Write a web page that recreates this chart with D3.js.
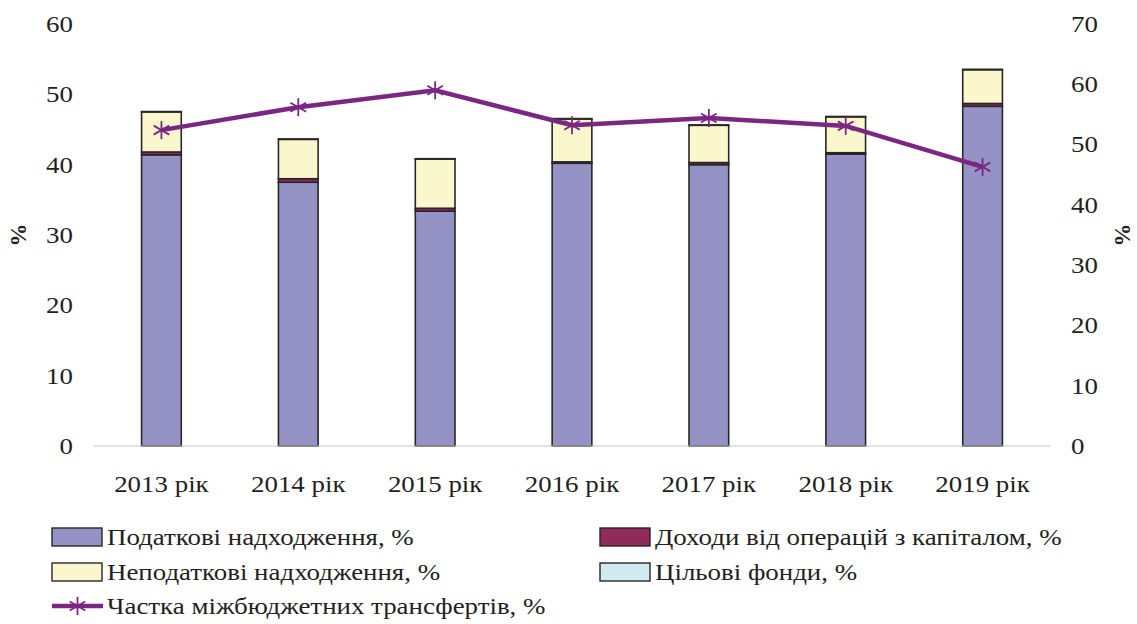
<!DOCTYPE html>
<html>
<head>
<meta charset="utf-8">
<script src="https://cdn.jsdelivr.net/npm/d3@7"></script>
<style>
  body { margin: 0; background: #fff; }
  svg text { font-family: "Liberation Serif", "Times New Roman", serif !important; fill: #231f20; }
</style>
</head>
<body>
<svg id="chart" width="1137" height="624"></svg>
<script>
// data
var years = ["2013 рік", "2014 рік", "2015 рік", "2016 рік", "2017 рік", "2018 рік", "2019 рік"];
var taxRevenue = [41.4, 37.5, 33.4, 40.2, 40.0, 41.5, 48.3];
var capitalIncome = [0.4, 0.5, 0.4, 0.2, 0.3, 0.2, 0.4];
var nonTaxRevenue = [5.7, 5.6, 7.0, 6.1, 5.3, 5.1, 4.8];
var targetFunds = [0.05, 0.05, 0.05, 0.05, 0.05, 0.05, 0.05];
var transfersShare = [52.4, 56.2, 59.0, 53.2, 54.4, 53.1, 46.3];
var leftTicks = [0, 10, 20, 30, 40, 50, 60];
var rightTicks = [0, 10, 20, 30, 40, 50, 60, 70];

var keys = ["tax", "capital", "nontax", "target"];
var names = {
  tax: "Податкові надходження, %",
  capital: "Доходи від операцій з капіталом, %",
  nontax: "Неподаткові надходження, %",
  target: "Цільові фонди, %"
};
var colors = { tax: "#9593c6", capital: "#8e2b5b", nontax: "#fbf7cc", target: "#d2ebf0" };
var lineColor = "#7a2783";
var fs = "23px";
var widen = 1.17; // the source text is drawn wider than the font

var table = years.map(function (y, i) {
  return { year: y, tax: taxRevenue[i], capital: capitalIncome[i], nontax: nonTaxRevenue[i], target: targetFunds[i], share: transfersShare[i] };
});

// stretch text horizontally about its anchor point
function stretch(sel) {
  sel.each(function () {
    var t = d3.select(this),
        tx = +t.attr("x") || 0,
        ty = +t.attr("y") || 0;
    t.attr("transform", "translate(" + tx + "," + ty + ") scale(" + widen + ",1) translate(" + (-tx) + "," + (-ty) + ")");
  });
}

var svg = d3.select("svg#chart"),
    margin = { top: 24, right: 86, bottom: 178, left: 93 },
    width = 1137 - margin.left - margin.right,
    height = 624 - margin.top - margin.bottom,
    g = svg.append("g").attr("transform", "translate(" + margin.left + "," + margin.top + ")");

var x = d3.scaleBand().domain(years).range([0, width]).paddingInner(0.71).paddingOuter(0.355);
var y = d3.scaleLinear().domain([0, 60]).range([height, 0]);
var y2 = d3.scaleLinear().domain([0, 70]).range([height, 0]);

var stack = d3.stack().keys(keys);

// bars
var serie = g.selectAll(".serie")
    .data(stack(table))
    .enter().append("g")
    .attr("class", "serie")
    .attr("fill", function (d) { return colors[d.key]; });

serie.selectAll("rect")
    .data(function (d) { return d; })
    .enter().append("rect")
    .attr("x", function (d) { return x(d.data.year); })
    .attr("y", function (d) { return y(d[1]); })
    .attr("height", function (d) { return y(d[0]) - y(d[1]); })
    .attr("width", x.bandwidth())
    .attr("stroke", "#2b2627")
    .attr("stroke-width", 1.6);

// baseline
g.append("line")
    .attr("x1", 0).attr("x2", width)
    .attr("y1", y(0)).attr("y2", y(0))
    .attr("stroke", "#c8c8c8").attr("stroke-width", 1.2);

// axes
var yAxis = g.append("g")
    .call(d3.axisLeft(y).tickValues(leftTicks).tickSize(0).tickPadding(20));
yAxis.select(".domain").remove();
yAxis.selectAll("text").style("font-size", fs).call(stretch);

var yAxis2 = g.append("g")
    .attr("transform", "translate(" + width + ",0)")
    .call(d3.axisRight(y2).tickValues(rightTicks).tickSize(0).tickPadding(20));
yAxis2.select(".domain").remove();
yAxis2.selectAll("text").style("font-size", fs).call(stretch);

var xAxis = g.append("g")
    .attr("transform", "translate(0," + height + ")")
    .call(d3.axisBottom(x).tickSize(0).tickPadding(30));
xAxis.select(".domain").remove();
xAxis.selectAll("text").style("font-size", fs).call(stretch);

svg.append("text")
    .attr("transform", "translate(26,235) rotate(-90)")
    .attr("text-anchor", "middle")
    .style("font-size", fs).style("font-weight", "bold")
    .text("%");
svg.append("text")
    .attr("transform", "translate(1130,235) rotate(-90)")
    .attr("text-anchor", "middle")
    .style("font-size", fs).style("font-weight", "bold")
    .text("%");

// line
var line = d3.line()
    .x(function (d) { return x(d.year) + x.bandwidth() / 2; })
    .y(function (d) { return y2(d.share); });

g.append("path")
    .datum(table)
    .attr("fill", "none")
    .attr("stroke", lineColor)
    .attr("stroke-width", 4.5)
    .attr("d", line);

// asterisk marker, six arms
function star(sel, r) {
  [0, 60, 120].forEach(function (a) {
    var rad = a * Math.PI / 180;
    sel.append("line")
      .attr("x1", -r * Math.sin(rad)).attr("y1", -r * Math.cos(rad))
      .attr("x2", r * Math.sin(rad)).attr("y2", r * Math.cos(rad))
      .attr("stroke", lineColor).attr("stroke-width", 1.8);
  });
}

g.selectAll(".marker")
    .data(table)
    .enter().append("g")
    .attr("class", "marker")
    .attr("transform", function (d) { return "translate(" + (x(d.year) + x.bandwidth() / 2) + "," + y2(d.share) + ")"; })
    .each(function () { star(d3.select(this), 9); });

// legend
var legendItems = [
  { key: "tax", x: 52, y: 537 },
  { key: "capital", x: 600, y: 537 },
  { key: "nontax", x: 52, y: 572 },
  { key: "target", x: 600, y: 572 }
];
var legend = svg.selectAll(".legend")
    .data(legendItems)
    .enter().append("g")
    .attr("class", "legend")
    .attr("transform", function (d) { return "translate(" + d.x + "," + d.y + ")"; });
legend.append("rect")
    .attr("x", 0).attr("y", -9).attr("width", 50).attr("height", 18)
    .attr("fill", function (d) { return colors[d.key]; })
    .attr("stroke", "#2b2627").attr("stroke-width", 1.4);
legend.append("text")
    .attr("x", 55).attr("y", 0).attr("dy", "0.35em")
    .style("font-size", fs)
    .text(function (d) { return names[d.key]; })
    .call(stretch);

var lineLegend = svg.append("g").attr("transform", "translate(52,606)");
lineLegend.append("line")
    .attr("x1", 0).attr("x2", 51).attr("y1", 0).attr("y2", 0)
    .attr("stroke", lineColor).attr("stroke-width", 4.5);
lineLegend.append("g").attr("transform", "translate(25.5,0)").call(star, 9);
lineLegend.append("text")
    .attr("x", 55).attr("y", 0).attr("dy", "0.35em")
    .style("font-size", fs)
    .text("Частка міжбюджетних трансфертів, %")
    .call(stretch);
</script>
</body>
</html>
